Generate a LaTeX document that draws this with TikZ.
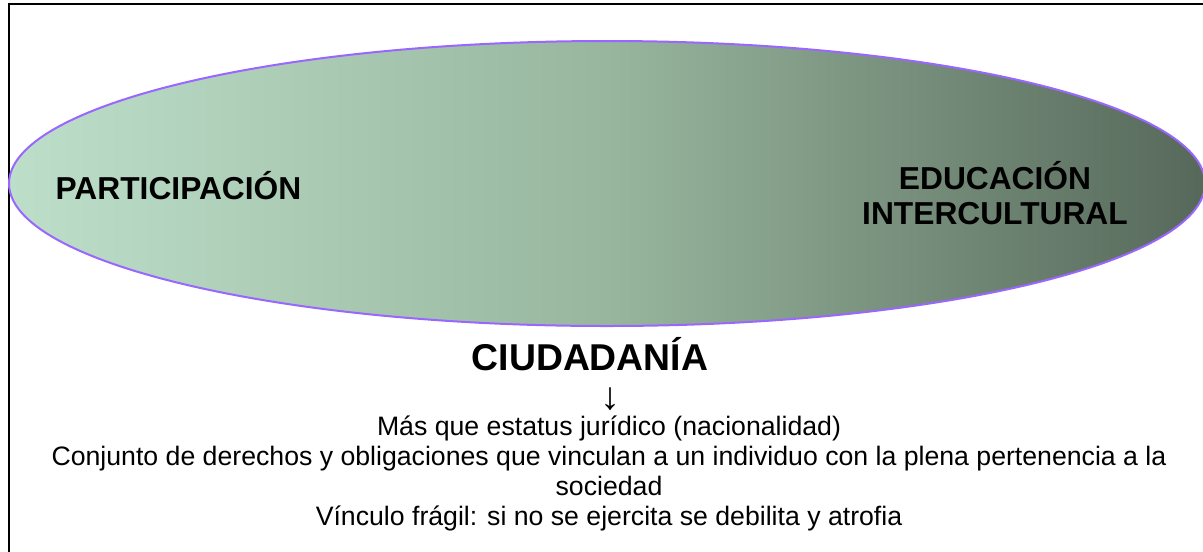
\documentclass[tikz,border=0pt]{standalone}
\usepackage{fontspec}
\usepackage{graphicx}
\setmainfont{Liberation Sans}
\usetikzlibrary{shapes.geometric}
\definecolor{ovalL}{RGB}{189,223,202}
\definecolor{ovalM}{RGB}{152,182,158}
\definecolor{ovalR}{RGB}{86,104,90}
\definecolor{ovalB}{RGB}{153,102,255}
\begin{document}
\begin{tikzpicture}[x=0.75pt,y=-0.75pt,
  oval/.style={ellipse, draw=ovalB, line width=1.5pt, left color=ovalL, right color=ovalR, middle color=ovalM, minimum width=897pt, minimum height=213.75pt, inner sep=0pt},
  big/.style={font=\bfseries\fontsize{23.8}{26.25}\selectfont, align=center, inner sep=0pt},
  title/.style={font=\bfseries\fontsize{28}{32}\selectfont, inner sep=0pt, text depth=0pt},
  body/.style={font=\fontsize{20}{22.5}\selectfont, inner sep=0pt}]
\useasboundingbox (0,0) rectangle (1203,551);
\clip (0,0) rectangle (1203,551);
\draw[line width=1.6pt] (9,4) rectangle (1220,570);
\node[oval] (oval) at (607,183.5) {};
\node[big, anchor=base] (part) at (178.5,199) {PARTICIPACIÓN};
\node[big, anchor=center] (educ) at (995,193) {EDUCACIÓN\\INTERCULTURAL};
\node[title, anchor=base] (ciud) at (590,370) {CIUDADANÍA};
\node[body, anchor=base, text height=15pt, text depth=0pt] (arrow) at (610,409) {\scalebox{1.5}[1.45]{↓}};
\node[body, anchor=base] (l1) at (609,435) {Más que estatus jurídico (nacionalidad)};
\node[body, anchor=base] (l2) at (609,465) {Conjunto de derechos y obligaciones que vinculan a un individuo con la plena pertenencia a la};
\node[body, anchor=base] (l3) at (609,495) {sociedad};
\node[body, anchor=base] (l4) at (609,525) {Vínculo frágil: si no se ejercita se debilita y atrofia};
\end{tikzpicture}
\end{document}
